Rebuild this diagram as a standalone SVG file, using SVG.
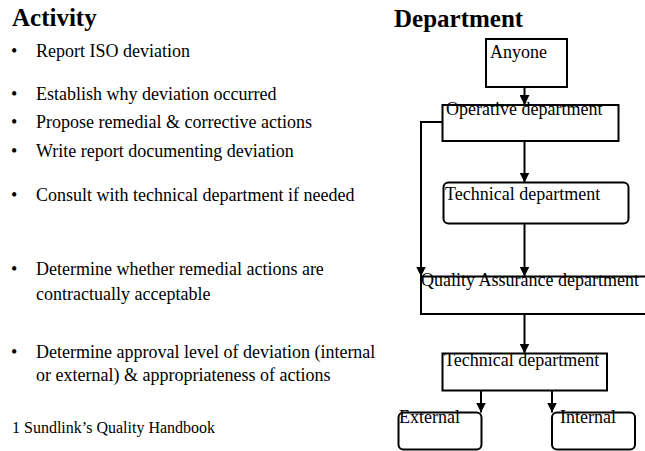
<svg xmlns="http://www.w3.org/2000/svg" width="645" height="451" viewBox="0 0 645 451">
<style>
text{fill:#000;font-family:"Liberation Serif","Times New Roman",serif}
.h{font-size:25px;font-weight:bold}
.b{font-size:18px}
.f{font-size:16px}
.n{font-size:18px}
.box{fill:none;stroke:#000;stroke-width:2}
.c{fill:none;stroke:#000;stroke-width:2}
</style>
<defs>
<marker id="ah" markerUnits="userSpaceOnUse" markerWidth="10" markerHeight="10" viewBox="0 0 10 10" refX="10" refY="5" orient="auto">
<path d="M0,0 L10,5 L0,10 z" fill="#000"/>
</marker>
</defs>
<rect width="645" height="451" fill="#fff"/>
<g id="activity">
<text class="h" x="12" y="26">Activity</text>
<text class="b" x="11" y="57">•</text><text class="b" x="36" y="57">Report ISO deviation</text>
<text class="b" x="11" y="100">•</text><text class="b" x="36" y="100">Establish why deviation occurred</text>
<text class="b" x="11" y="128">•</text><text class="b" x="36" y="128">Propose remedial &amp; corrective actions</text>
<text class="b" x="11" y="157">•</text><text class="b" x="36" y="157">Write report documenting deviation</text>
<text class="b" x="11" y="201">•</text><text class="b" x="36" y="201">Consult with technical department if needed</text>
<text class="b" x="11" y="275">•</text><text class="b" x="36" y="275">Determine whether remedial actions are</text>
<text class="b" x="36" y="300">contractually acceptable</text>
<text class="b" x="11" y="358">•</text><text class="b" x="36" y="358">Determine approval level of deviation (internal</text>
<text class="b" x="36" y="381">or external) &amp; appropriateness of actions</text>
<text class="f" x="12" y="433">1 Sundlink’s Quality Handbook</text>
</g>
<text class="h" x="394" y="27">Department</text>
<g id="connectors">
<line class="c" x1="524.5" y1="87" x2="524.5" y2="105" marker-end="url(#ah)"/>
<line class="c" x1="524.5" y1="141" x2="524.5" y2="182.5" marker-end="url(#ah)"/>
<line class="c" x1="524.5" y1="223.5" x2="524.5" y2="276.5" marker-end="url(#ah)"/>
<path class="c" d="M442.5,122 H421 V276.5" marker-end="url(#ah)"/>
<line class="c" x1="524.5" y1="314" x2="524.5" y2="353.5" marker-end="url(#ah)"/>
<line class="c" x1="481" y1="390.5" x2="481" y2="412.5" marker-end="url(#ah)"/>
<line class="c" x1="552" y1="390.5" x2="552" y2="412.5" marker-end="url(#ah)"/>
</g>
<g id="anyone">
<rect class="box" x="486" y="39" width="81" height="48"/>
<text class="n" x="490" y="58">Anyone</text>
</g>
<g id="operative">
<rect class="box" x="442.5" y="105" width="176" height="36"/>
<text class="n" x="446" y="115">Operative department</text>
</g>
<g id="technical1">
<rect class="box" x="443.5" y="182.5" width="185" height="41" rx="5"/>
<text class="n" x="445" y="200">Technical department</text>
</g>
<g id="qa">
<rect class="box" x="421" y="276.5" width="240" height="37.5"/>
<text class="n" x="421" y="286">Quality Assurance department</text>
</g>
<g id="technical2">
<rect class="box" x="442.5" y="353.5" width="164.5" height="37"/>
<text class="n" x="444" y="366">Technical department</text>
</g>
<g id="external">
<rect class="box" x="398.5" y="412.5" width="83" height="37" rx="5"/>
<text class="n" x="399" y="423">External</text>
</g>
<g id="internal">
<rect class="box" x="552" y="412.5" width="83" height="37" rx="5"/>
<text class="n" x="560" y="423">Internal</text>
</g>
</svg>
